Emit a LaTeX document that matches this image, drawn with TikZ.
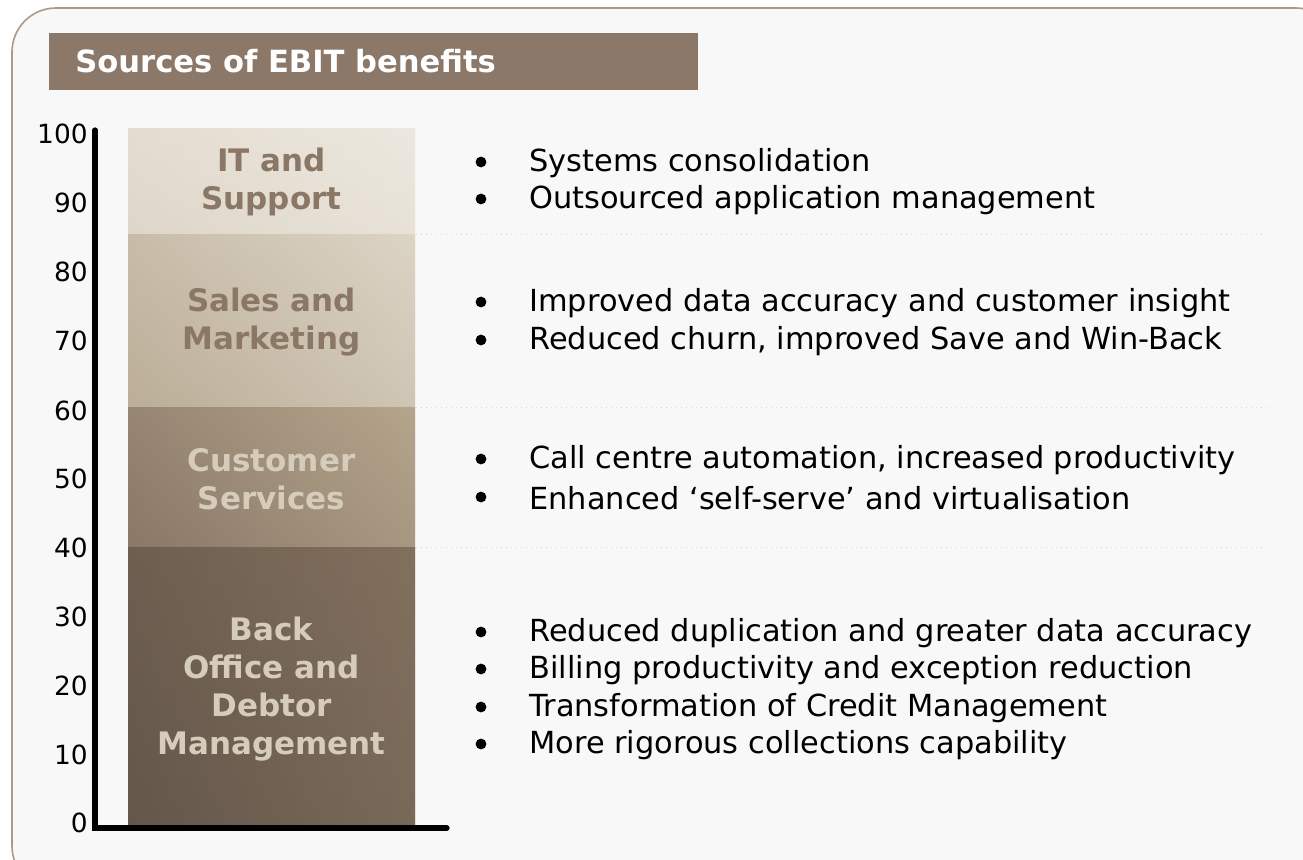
\documentclass[tikz,border=0pt]{standalone}
\usepackage{fontspec}
\setmainfont{DejaVu Sans}
\definecolor{frame}{HTML}{A89A8C}
\definecolor{bgc}{HTML}{F8F8F8}
\definecolor{titlec}{HTML}{8C7868}
\definecolor{darklab}{HTML}{8B7766}
\definecolor{lightlab}{HTML}{D6CCBB}
\definecolor{gridc}{HTML}{DCDCDC}
\definecolor{itL}{HTML}{E0D8CA}\definecolor{itR}{HTML}{EEEAE2}\definecolor{itT}{HTML}{EAE5DB}\definecolor{itB}{HTML}{DCD3C4}
\definecolor{saL}{HTML}{BCAE98}\definecolor{saR}{HTML}{DAD2C3}\definecolor{saT}{HTML}{E0D8CA}\definecolor{saB}{HTML}{BBAE98}
\definecolor{csL}{HTML}{8A7868}\definecolor{csR}{HTML}{B8A88E}\definecolor{csT}{HTML}{B0A088}\definecolor{csB}{HTML}{8A7868}
\definecolor{boL}{HTML}{65584B}\definecolor{boR}{HTML}{887662}\definecolor{boT}{HTML}{7A6858}\definecolor{boB}{HTML}{62554A}
\tikzset{
  seglab/.style={font=\bfseries\fontsize{15.5pt}{19pt}\selectfont, align=center, text width=140pt, inner sep=0pt},
  bul/.style={font=\fontsize{15.2pt}{18.5pt}\selectfont, anchor=west, inner sep=0pt},
  ticklab/.style={font=\fontsize{13.2pt}{15pt}\selectfont, anchor=east, inner sep=0pt},
  dotline/.style={draw=gridc, dotted, line width=0.5pt},
}
\begin{document}
\begin{tikzpicture}[x=0.5pt,y=-0.5pt]
\useasboundingbox (0,0) rectangle (1303,860);
% frame
\draw[frame, fill=bgc, line width=0.8pt, rounded corners=22pt] (12,8) rectangle (1340,890);
% title
\node[fill=titlec, minimum width=324.5pt, minimum height=28.5pt, inner sep=0pt, anchor=north west] (title) at (49,33) {};
\node[anchor=west, text=white, font=\bfseries\fontsize{15.3pt}{18pt}\selectfont, inner sep=0pt] (titletext) at (75,61) {Sources of EBIT benefits};
% segments
\shade[left color=itL, right color=itR] (128,129) rectangle (415,235);
\shade[top color=itT, bottom color=itB, fill opacity=0.35] (128,129) rectangle (415,235);
\shade[left color=saL, right color=saR] (128,235) rectangle (415,408);
\shade[top color=saT, bottom color=saB, fill opacity=0.35] (128,235) rectangle (415,408);
\shade[left color=csL, right color=csR] (128,408) rectangle (415,548);
\shade[top color=csT, bottom color=csB, fill opacity=0.35] (128,408) rectangle (415,548);
\shade[left color=boL, right color=boR] (128,548) rectangle (415,828);
\shade[top color=boT, bottom color=boB, fill opacity=0.4] (128,548) rectangle (415,828);
% dotted separators
\coordinate (s1a) at (416,235); \coordinate (s1b) at (1268,235);
\coordinate (s2a) at (416,408); \coordinate (s2b) at (1268,408);
\coordinate (s3a) at (416,548); \coordinate (s3b) at (1268,548);
\draw[dotline] (s1a) -- (s1b);
\draw[dotline] (s2a) -- (s2b);
\draw[dotline] (s3a) -- (s3b);
% segment labels
\node[seglab, text=darklab] (itlab) at (271.5,182) {IT and\\Support};
\node[seglab, text=darklab] (salab) at (271.5,322) {Sales and\\Marketing};
\node[seglab, text=lightlab] (cslab) at (271.5,479) {Customer\\Services};
\node[seglab, text=lightlab] (bolab) at (271.5,689) {Back\\Office and\\Debtor\\Management};
% axis
\coordinate (ytop) at (95,130);
\coordinate (orig) at (95,828);
\coordinate (xend) at (447,828);
\draw[line width=2.6pt, line cap=round, line join=miter] (ytop) -- (orig) -- (xend);
% tick labels
\foreach \v/\y in {100/134,90/203,80/272,70/341,60/411,50/479,40/548,30/617,20/686,10/755,0/823}{
  \node[ticklab] (t\v) at (88,\y) {\v};
}
% bullets
\foreach \y/\t [count=\i] in {
  161/Systems consolidation,
  198/Outsourced application management,
  301/Improved data accuracy and customer insight,
  339/{Reduced churn, improved Save and Win-Back},
  458/{Call centre automation, increased productivity},
  496/Enhanced ‘self-serve’ and virtualisation,
  631/Reduced duplication and greater data accuracy,
  668/Billing productivity and exception reduction,
  706/Transformation of Credit Management,
  743/More rigorous collections capability}{
  \fill (481,\y+1) circle[radius=2.7pt];
  \node[bul] (b\i) at (529,\y+2) {\t};
}
\end{tikzpicture}
\end{document}
